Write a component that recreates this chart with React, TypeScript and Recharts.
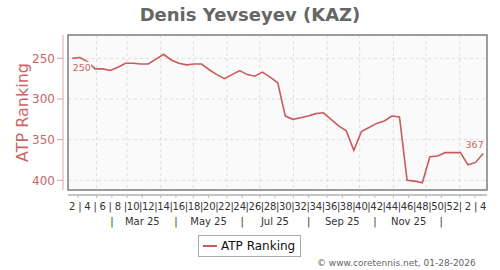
import {
  CartesianGrid,
  LabelList,
  Legend,
  Line,
  LineChart,
  ReferenceArea,
  XAxis,
  YAxis,
} from "recharts";

// ranking week numbers (2025 week 2 .. 2026 week 4)
const weeks = [
  2, 3, 4, 5, 6, 7, 8, 9, 10, 11, 12, 13, 14, 15, 16, 17, 18, 19, 20, 21, 22,
  23, 24, 25, 26, 27, 28, 29, 30, 31, 32, 33, 34, 35, 36, 37, 38, 39, 40, 41,
  42, 43, 44, 45, 46, 47, 48, 49, 50, 51, 52, 1, 2, 3, 4,
];

const ranking = [
  250, 249, 254, 263, 263, 265, 261, 256, 256, 257, 257, 251, 245, 252, 256,
  258, 257, 257, 264, 270, 275, 270, 265, 270, 272, 267, 273, 280, 321, 325,
  323, 321, 318, 317, 325, 333, 339, 363, 340, 335, 330, 327, 321, 322, 400,
  401, 403, 371, 370, 366, 366, 366, 381, 378, 367,
];

// month starts, in weeks from the first ranking date
const monthStarts = [
  3.2, 7.2, 11.63, 15.91, 20.34, 24.63, 29.06, 33.49, 37.77, 42.2, 46.49, 50.91,
];
// 1st and 15th of each month
const minorTicks = [
  0.77, 3.2, 5.2, 7.2, 9.2, 11.63, 13.63, 15.91, 17.91, 20.34, 22.34, 24.63,
  26.63, 29.06, 31.06, 33.49, 35.49, 37.77, 39.77, 42.2, 44.2, 46.49, 48.49,
  50.91, 52.91,
];
const monthLabelPos = [
  5.2, 9.2, 13.63, 17.91, 22.34, 26.63, 31.06, 35.49, 39.77, 44.2, 48.49,
];
const monthLabels = [
  "|", "Mar 25", "|", "May 25", "|", "Jul 25", "|", "Sep 25", "|", "Nov 25", "|",
];

const rankTicks = [250, 300, 350, 400];

const data = ranking.map((rank, i) => ({ i, week: weeks[i], rank }));

const FONT = "'DejaVu Sans', Verdana, sans-serif";
const PINK = "#cc6666";
const LINE = "#c95b5b";
const X_DOMAIN = [-0.56, 54.5];
const Y_DOMAIN = [221.3, 411.9];

function WeekTick(props: any) {
  const { x, y, payload } = props;
  const w = weeks[payload.value];
  return (
    <text
      x={x}
      y={y}
      dy={14}
      textAnchor="middle"
      fontSize={10}
      fontFamily={FONT}
      fill="#333"
    >
      {w % 2 === 0 ? String(w) : "|"}
    </text>
  );
}

function MonthTick(props: any) {
  const { x, y, payload } = props;
  const k = monthLabelPos.indexOf(payload.value);
  return (
    <text
      x={x}
      y={y}
      dy={12.5}
      textAnchor="middle"
      fontSize={10}
      fontFamily={FONT}
      fill="#333"
    >
      {k >= 0 ? monthLabels[k] : ""}
    </text>
  );
}

function EndLabel(props: any) {
  const { x, y, value, index } = props;
  if (index === 0) {
    return (
      <g>
        <rect x={x - 1} y={y + 3.5} width={20} height={11} fill="#fafafa" />
        <text x={x + 0.5} y={y + 13} fontSize={9.5} fontFamily={FONT} fill={PINK}>
          {value}
        </text>
      </g>
    );
  }
  if (index === ranking.length - 1) {
    return (
      <text
        x={x + 0.5}
        y={y - 5}
        textAnchor="end"
        fontSize={9.5}
        fontFamily={FONT}
        fill={PINK}
      >
        {value}
      </text>
    );
  }
  return null;
}

function LegendBox() {
  return (
    <div
      style={{
        boxSizing: "border-box",
        width: 103,
        height: 22,
        border: "1px solid #aaa",
        background: "#fff",
        display: "flex",
        alignItems: "center",
        fontFamily: FONT,
        fontSize: 12,
        color: "#111",
      }}
    >
      <span
        style={{
          display: "inline-block",
          width: 14,
          height: 2,
          background: LINE,
          marginLeft: 4,
          marginRight: 4,
        }}
      />
      ATP Ranking
    </div>
  );
}

export default function App() {
  return (
    <div
      style={{
        position: "absolute",
        left: 0,
        top: 0,
        width: 500,
        height: 270,
        background: "#fff",
      }}
    >
      <div
        style={{
          position: "absolute",
          left: 0,
          top: 0,
          width: 500,
          lineHeight: "29px",
          textAlign: "center",
          fontFamily: FONT,
          fontWeight: "bold",
          fontSize: 18,
          color: "#666",
        }}
      >
        Denis Yevseyev (KAZ)
      </div>
      <LineChart
        width={500}
        height={270}
        data={data}
        margin={{ top: 35, right: 13, left: 0, bottom: 42 }}
      >
        <CartesianGrid
          xAxisId="e_grid"
          yAxisId="b_main"
          fill="#fafafa"
          stroke="#dcdcdc"
          strokeDasharray="3 3"
        />
        <XAxis
          xAxisId="a_gap"
          dataKey="i"
          type="number"
          domain={X_DOMAIN}
          height={5}
          axisLine={false}
          tickLine={false}
          tick={false}
        />
        <XAxis
          xAxisId="b_minor"
          dataKey="i"
          type="number"
          domain={X_DOMAIN}
          height={1}
          ticks={minorTicks}
          interval={0}
          axisLine={{ stroke: "#8a8a8a", strokeWidth: 1.2 }}
          tickLine={{ stroke: "#bbb" }}
          tickSize={3}
          tick={() => <g />}
        />
        <XAxis
          xAxisId="c_week"
          dataKey="i"
          type="number"
          domain={X_DOMAIN}
          height={16}
          ticks={weeks.map((_, i) => i)}
          interval={0}
          axisLine={false}
          tickLine={false}
          tickSize={0}
          tickMargin={0}
          tick={<WeekTick />}
        />
        <XAxis
          xAxisId="d_month"
          dataKey="i"
          type="number"
          domain={X_DOMAIN}
          height={16}
          ticks={monthLabelPos}
          interval={0}
          axisLine={false}
          tickLine={false}
          tickSize={0}
          tickMargin={0}
          tick={<MonthTick />}
        />
        <XAxis
          xAxisId="e_grid"
          dataKey="i"
          type="number"
          domain={X_DOMAIN}
          height={0}
          ticks={monthStarts}
          interval={0}
          hide
        />
        <YAxis
          yAxisId="a_gap"
          domain={[0, 1]}
          width={5}
          axisLine={false}
          tickLine={false}
          tick={false}
        />
        <YAxis
          yAxisId="b_main"
          reversed
          domain={Y_DOMAIN}
          ticks={rankTicks}
          interval={0}
          width={63}
          axisLine={{ stroke: "#e0a4a4" }}
          tickLine={{ stroke: "#e0a4a4" }}
          tickSize={6}
          tick={{ fill: PINK, fontSize: 12, fontFamily: FONT }}
          label={{
            content: () => (
              <text
                transform="translate(22,112.5) rotate(-90)"
                textAnchor="middle"
                dominantBaseline="central"
                fontSize={16}
                fontFamily={FONT}
                fill={PINK}
              >
                ATP Ranking
              </text>
            ),
          }}
        />
        <ReferenceArea
          xAxisId="c_week"
          yAxisId="b_main"
          x1={X_DOMAIN[0]}
          x2={X_DOMAIN[1]}
          y1={Y_DOMAIN[0]}
          y2={Y_DOMAIN[1]}
          fill="none"
          fillOpacity={0}
          stroke="#808080"
          strokeWidth={1.5}
          strokeOpacity={1}
          ifOverflow="visible"
        />
        <Line
          xAxisId="c_week"
          yAxisId="b_main"
          type="linear"
          dataKey="rank"
          name="ATP Ranking"
          stroke={LINE}
          strokeWidth={1.6}
          dot={false}
          isAnimationActive={false}
        >
          <LabelList dataKey="rank" content={<EndLabel />} />
        </Line>
        <Legend
          layout="horizontal"
          verticalAlign="middle"
          align="center"
          wrapperStyle={{ top: 235, left: 198, width: 103, height: 22 }}
          content={() => <LegendBox />}
        />
      </LineChart>
      <div
        style={{
          position: "absolute",
          left: 317,
          top: 258,
          fontFamily: FONT,
          fontSize: 9,
          color: "#666",
          whiteSpace: "nowrap",
        }}
      >
        © www.coretennis.net, 01-28-2026
      </div>
    </div>
  );
}
